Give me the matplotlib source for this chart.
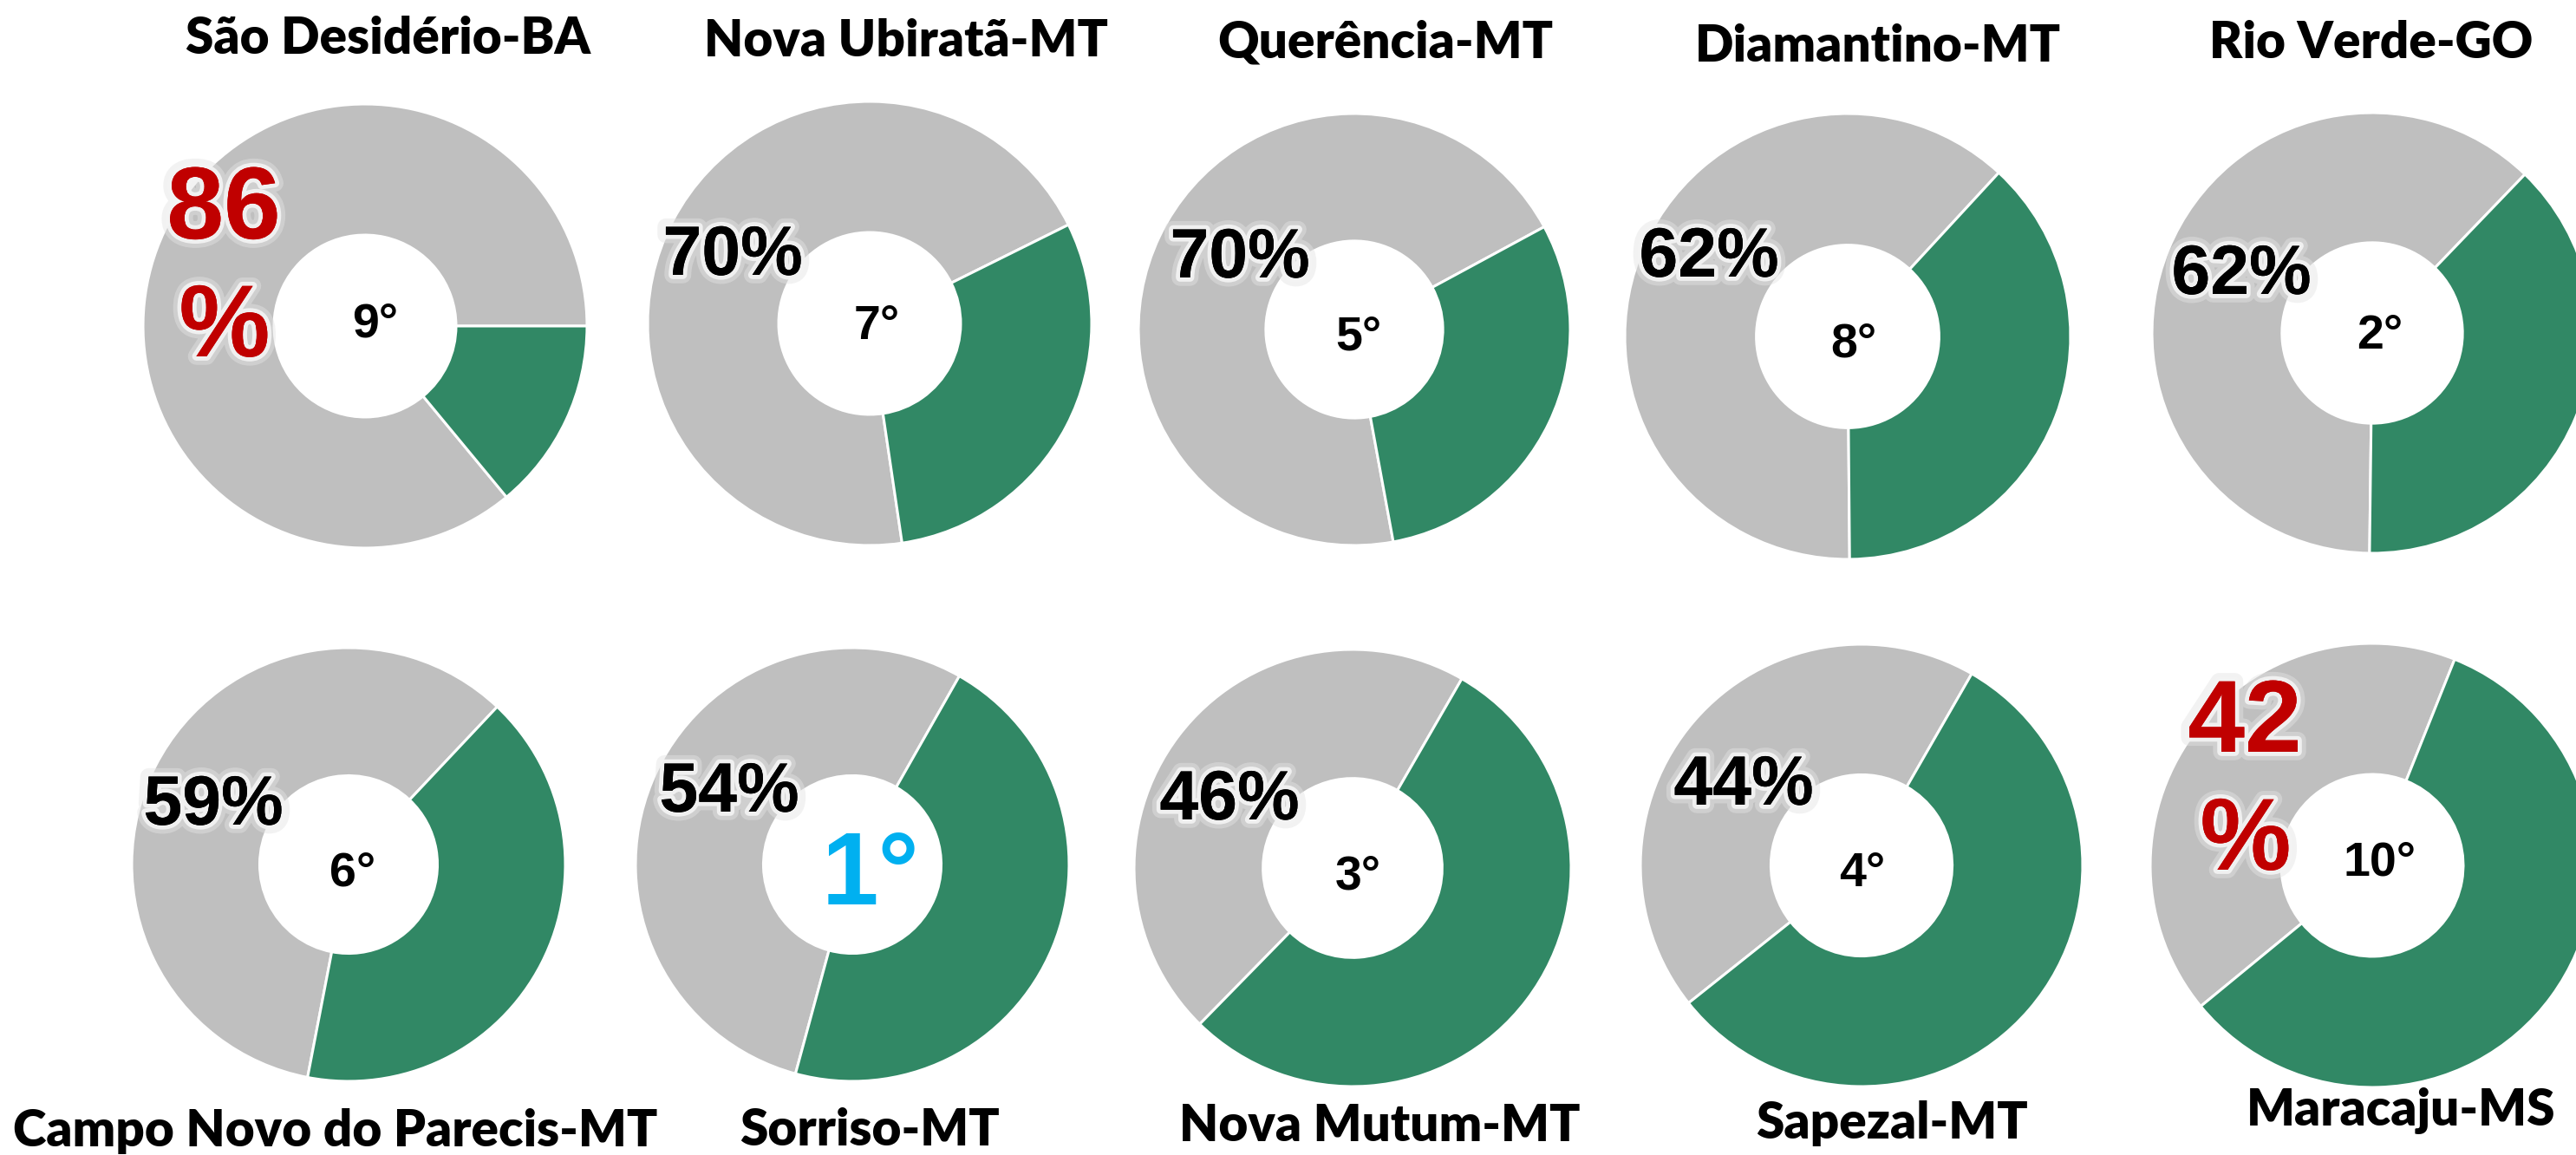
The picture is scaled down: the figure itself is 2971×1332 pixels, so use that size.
import matplotlib
matplotlib.use("Agg")  # REQUIRED

import matplotlib.pyplot as plt
import matplotlib.patheffects as pe

# data
cities = ["São Desidério-BA", "Nova Ubiratã-MT", "Querência-MT", "Diamantino-MT", "Rio Verde-GO",
          "Campo Novo do Parecis-MT", "Sorriso-MT", "Nova Mutum-MT", "Sapezal-MT", "Maracaju-MS"]
shares = [86, 70, 70, 62, 62, 59, 54, 46, 44, 42]
ranks = [9, 7, 5, 8, 2, 6, 1, 3, 4, 10]

W, H = 2971, 1332
GREY = "#BFBFBF"
GREEN = "#318865"
RED = "#C00000"
CYAN = "#00B0F0"

# layout (pixels): donut centre + radius, rotation of first slice
donut_geom = [(421, 376, 256), (1003, 373, 256), (1562, 380, 249), (2131, 388, 257), (2736, 384, 254),
              (402, 997, 250), (983, 997, 250), (1560, 1001, 252), (2147, 998, 255), (2736, 998, 256)]
start_angles = [0, 26.4, 28.4, 47.3, 46.1, 46.7, 60.4, 60.0, 60.1, 68.2]
pct_pos = [(258, 275), (845, 317), (1430, 320), (1971, 319), (2585, 339),
           (246, 951), (841, 936), (1418, 945), (2011, 928), (2589, 867)]
rank_pos = [(433, 389), (1011, 391), (1567, 403), (2138, 412), (2745, 402),
            (407, 1021), (1004, 1043), (1566, 1025), (2148, 1022), (2745, 1010)]
title_pos = [(447, 62), (1045, 65), (1598, 67), (2166, 71), (2735, 67),
             (387, 1322), (1003, 1321), (1591, 1316), (2182, 1313), (2769, 1298)]

fig = plt.figure(figsize=(W / 100, H / 100), dpi=100)


def fx(x):
    return x / W


def fy(y):
    return 1 - y / H


glow = [pe.withStroke(linewidth=14, foreground="#e4e4e4", alpha=0.45),
        pe.withStroke(linewidth=7, foreground="#f4f4f4", alpha=0.9),
        pe.Normal()]

for i, city in enumerate(cities):
    cx, cy, r = donut_geom[i]
    ax = fig.add_axes([fx(cx - r), fy(cy + r), 2 * r / W, 2 * r / H])
    ax.pie([shares[i], 100 - shares[i]], colors=[GREY, GREEN], startangle=start_angles[i],
           counterclock=True, radius=1,
           wedgeprops=dict(width=0.59, edgecolor="white", linewidth=2.2))
    ax.set_xlim(-1, 1)
    ax.set_ylim(-1, 1)
    ax.set_aspect("auto")
    ax.axis("off")

    # percentage label
    px, py = pct_pos[i]
    if i in (0, 9):
        fig.text(fx(px), fy(py), f"{shares[i]}", ha="center", va="baseline", fontsize=85,
                 fontweight="bold", family="Liberation Sans", color=RED, path_effects=glow)
        fig.text(fx(px + 1), fy(py + 136), "%", ha="center", va="baseline", fontsize=85,
                 fontweight="bold", family="Liberation Sans", color=RED, path_effects=glow)
    else:
        fig.text(fx(px), fy(py), f"{shares[i]}%", ha="center", va="baseline", fontsize=58,
                 fontweight="bold", family="Liberation Sans", color="black", path_effects=glow)

    # rank in the hole
    rx, ry = rank_pos[i]
    if ranks[i] == 1:
        fig.text(fx(rx), fy(ry), f"{ranks[i]}°", ha="center", va="baseline", fontsize=85,
                 fontweight="bold", family="Liberation Sans", color=CYAN)
    else:
        fig.text(fx(rx), fy(ry), f"{ranks[i]}°", ha="center", va="baseline", fontsize=40,
                 fontweight="bold", family="Liberation Sans", color="black")

    # city name
    tx, ty = title_pos[i]
    fig.text(fx(tx), fy(ty), city, ha="center", va="baseline", fontsize=42,
             fontweight="heavy", family="Lato", color="black")

fig.savefig("out.png", dpi=100, facecolor="white")
plt.close(fig)
